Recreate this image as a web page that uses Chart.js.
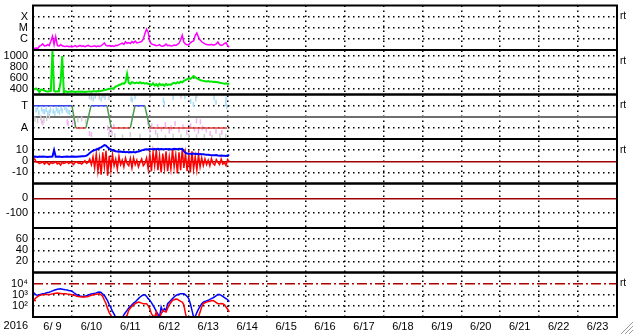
<!DOCTYPE html>
<html>
<head>
<meta charset="utf-8">
<script src="https://cdn.jsdelivr.net/npm/chart.js@4.4.0/dist/chart.umd.min.js"></script>
<style>
  html, body { margin: 0; padding: 0; background: #fff; }
  canvas { display: block; }
</style>
</head>
<body>
<canvas id="spaceWeather" width="633" height="334"></canvas>
<script>
// x axis is in days counted from 2016-06-09 00:00 UT, one data value per hour
const yearLabel = '2016';
const dayLabels = ['6/ 9', '6/10', '6/11', '6/12', '6/13', '6/14', '6/15', '6/16',
                   '6/17', '6/18', '6/19', '6/20', '6/21', '6/22', '6/23'];

// X-ray flux, hourly, in units of 1e-7 W/m2
const xrayFlux = [
  1.4, 1.4, 1.5, 1.4, 2.2, 2.6, 3.6, 2.3, 2.4, 3.0, 2.5, 6.0,
  17, 3.0, 16, 2.6, 2.2, 3.1, 2.4, 2.2, 2.1, 2.3, 2.0, 2.2,
  1.9, 2.1, 2.5, 2.0, 2.2, 2.6, 2.1, 2.4, 2.0, 2.3, 2.6, 2.2,
  2.1, 2.2, 2.4, 2.0, 2.3, 2.1, 2.5, 3.1, 4.4, 2.6, 2.3, 2.5,
  2.2, 2.4, 2.1, 2.6, 2.5, 3.0, 3.6, 4.2, 3.2, 5.5, 4.0, 4.6,
  3.8, 5.8, 4.4, 6.4, 4.4, 4.6, 5.2, 6.0, 10, 30, 77, 40,
  5.5, 3.6, 3.1, 2.8, 2.4, 2.6, 3.0, 2.3, 2.2, 2.5, 3.4, 2.4,
  2.6, 2.3, 2.4, 2.8, 2.6, 3.2, 4.0, 8.0, 21, 5.0, 3.4, 3.0,
  3.0, 4.4, 5.6, 6.5, 20, 34, 14, 8.0, 5.5, 4.4, 3.6, 3.1,
  3.0, 2.8, 3.2, 2.7, 2.9, 3.6, 5.2, 3.0, 2.6, 2.9, 3.8, 4.6,
  2.4, 1.8
];

// solar wind speed, km/s, hourly
const windSpeed = [
  400, 395, 410, 380, 345, 390, 385, 370, 360, 355, 360, 365,
  1090, 365, 350, 360, 355, 520, 990, 330, 360, 345,
  350, 355, 348, 352, 345, 350, 355, 348, 352, 350, 345, 350,
  352, 355, 350, 358, 360, 355, 362, 360, 365, 370, 380,
  385, 395, 400, 410, 405, 420,
  440, 455, 470, 480, 500, 490,
  520, 670, 510, 490,
  520, 510, 505,
  515, 505, 520, 500, 510, 495, 505, 490,
  490, 470, 500, 460, 485, 450, 495, 470, 480, 455, 490, 470, 485, 475,
  500, 510, 495, 520, 505, 530, 520, 545,
  560, 575, 590, 580, 600, 630, 610, 590,
  575, 560, 550, 545, 540, 535, 540, 530, 535, 525, 530, 525, 520,
  510, 505, 500, 495, 500, 490, 495
];

// IMF sector (1 = Toward, -1 = Away)
const sectorDays = [0, 1.0, 1.1, 1.36, 1.49, 1.9, 2.01, 2.5, 2.62, 2.87, 3.0, 4.99];
const sectorValues = [1, 1, -1, -1, 1, 1, -1, -1, 1, 1, -1, -1];

// IMF direction samples [day, value]
const phiToward = [
  [0.08, 0.6], [0.12, 0.8], [0.15, 0.35], [0.22, 0.7], [0.26, 0.5], [0.3, 0.45],
  [0.34, 0.65], [0.38, 0.3], [0.42, 0.4], [0.45, 0.6], [0.52, 0.5], [0.56, 0.3],
  [0.6, 0.7], [0.64, 0.55], [0.68, 0.4], [0.72, 0.75], [0.75, 0.55], [0.82, 0.8],
  [0.86, 0.6], [0.9, 0.45], [0.94, 0.35], [1.5, 1.7], [1.6, 1.85], [1.75, 1.6],
  [1.85, 1.75], [2.52, 1.6], [2.55, 1.5], [2.62, 1.8], [3.35, 1.5], [3.37, 1.2],
  [3.6, 1.7], [3.9, 1.8], [4.05, 1.4], [4.12, 1.1], [4.18, 1.6], [4.65, 1.7],
  [4.7, 1.3], [4.95, 1.2], [4.96, 1.6], [4.98, 0.9]
];
const phiUnsure = [
  [0.05, -0.2], [0.12, -0.35], [0.2, -0.1], [0.28, -0.3], [0.35, -0.15], [0.42, 0.05],
  [1.05, -0.1], [1.15, -0.3], [1.25, -0.2], [1.35, -0.4], [1.45, 1.8], [1.55, 1.6],
  [1.7, 1.75], [1.8, 1.9], [1.95, 1.7], [1.95, -1.6], [2.1, -1.7], [2.3, -1.8],
  [2.5, -1.6], [2.75, -1.75], [3.0, -1.8], [3.0, 1.9], [3.2, -1.7], [3.4, -1.85],
  [3.6, -1.75], [3.8, -1.8], [3.8, 1.85], [4.0, -1.7], [4.2, -1.8], [4.2, 1.9],
  [4.4, -1.75], [4.6, -1.85], [4.8, -1.7], [4.95, -1.8]
];
const phiAway = [
  [0.22, -0.4], [0.25, -0.55], [0.88, -0.45], [0.9, -0.6], [1.02, -0.5], [1.08, -0.7],
  [1.45, -1.5], [1.5, -1.6], [1.92, -1.0], [1.97, -1.3], [2.03, -1.5], [2.08, -0.9],
  [2.95, -0.5], [3.0, -1.2], [3.05, -0.8], [3.15, -1.4], [3.2, -0.9], [3.3, -1.1],
  [3.4, -0.7], [3.5, -1.3], [3.55, -1.0], [3.65, -0.6], [3.75, -1.2], [3.85, -0.9],
  [3.95, -1.4], [4.05, -0.8], [4.15, -1.1], [4.2, -0.35], [4.25, -1.3], [4.3, -0.45],
  [4.35, -1.0], [4.45, -1.2], [4.55, -1.5], [4.7, -1.3], [4.85, -1.4]
];

// IMF Bt and Bz, nT, hourly
const imfBt = [
  4.0, 4.2, 4.1, 3.9, 4.3, 4.0, 4.2, 4.1, 4.0, 3.8, 4.0, 4.1, 4.2,
  10,
  4.1, 4.0, 4.2, 4.0, 3.9, 4.1, 4.0, 4.2, 4.1, 4.0, 4.1, 4.2, 4.0, 4.1, 4.3, 4.2, 4.4, 4.5, 4.6,
  5.0, 6.0, 7.5, 8.5, 9.5, 10, 10.5, 11, 12, 12.5, 13.5,
  14.5, 14, 12.5, 11.5, 10.5, 10, 9.5,
  9, 8.8, 8.5, 8.7, 8.3, 8.5, 8.2, 8.4, 8.0, 8.3,
  8.1, 8.4, 8.0, 8.5, 8.8, 9.2, 9.8, 10.2,
  10.5, 10.8, 10.6, 11, 10.9, 10.7, 11, 10.8, 11.2, 10.9, 11, 10.7,
  10.9, 11.1, 10.8, 11, 10.6, 10.9, 11.2, 11, 10.8, 11.3, 11, 11.2,
  9, 7.5, 7, 6.8,
  6.8, 6.6, 6.9, 6.5, 6.7, 6.4, 6.6, 6.3, 6.2, 6.0, 5.9, 5.8,
  5.6, 5.5, 5.4, 5.3, 5.5, 5.2, 5.0, 5.1, 4.9, 5.0, 4.8, 5.3, 5.6
];
const imfBz = [
  1.5, 2.0, -0.5, -1.0, -2.0, -1.5, -0.5, -2.5, -1.0, -1.5, -3.0, -1.0,
  -2.0, -1.5, -0.5, -2.5, -1.5, -3.5, -1.0, -2.0, -1.5, -0.5, -2.0, -1.0,
  -1.5, -3.0, -1.0, -0.5, -2.0, -1.5, -2.5, -1.0, 0.5, -2.0, -1.0, 2.0,
  -3.0, 4.0, -6.0, 6.5, -9.0, 3.0, -12.0, 8.0, -5.0, 9.5, -13.0, 5.0,
  -8.0, 6.0, -4.0, 2.0, -7.0, 4.5, -3.0, 1.0, -5.0, 3.0, -2.0, -4.0,
  2.5, -6.0, 3.0, -3.0, 1.0, -5.0, -1.0, 2.0, -4.0, -2.0, 3.0, -7.0,
  6.0, -9.0, 8.0, -4.0, 10.0, -8.0, 5.0, -10.0, 7.0, -6.0, 9.0, -9.0,
  4.0, -7.0, 10.5, -5.0, 6.0, -11.0, 8.0, -8.0, 11.0, -6.0, 7.0, -9.0,
  5.0, -10.0, 9.0, -7.0, 4.0, -8.0, 6.0, -5.0, 3.0, -4.0, 2.0, -3.0,
  1.0, -4.0, 2.5, -2.0, -3.5, 1.5, -1.0, -3.0, 2.0, -2.5, -1.0, -4.0, 1.5, -0.5
];

// electron flux, hourly, given as log10 of the flux
const electronLogA = [
  3.23, 3.1, 2.97, 2.95, 3.0, 3.05, 3.08, 3.1, 3.15, 3.2,
  3.23, 3.28, 3.35, 3.4, 3.45, 3.5, 3.52, 3.53, 3.5, 3.47,
  3.44, 3.42, 3.38, 3.35, 3.32, 3.2, 3.1, 3.0, 2.94, 2.9,
  2.87, 2.85, 2.88, 2.92, 2.97, 3.03, 3.07, 3.1, 3.13, 3.17,
  3.22, 3.25, 3.2, 3.05, 2.95, 2.7, 2.45, 2.1, 1.85, 1.5,
  1.25, 0.95, 0.7, 0.7, 0.7, 0.9, 1.2, 1.4, 1.6, 1.8,
  1.95, 2.1, 2.25, 2.35, 2.5, 2.65, 2.8, 2.9, 3.0, 3.0,
  2.85, 2.65, 2.5, 2.3, 2.05, 1.8, 1.5, 1.25, 1.0, 1.9,
  1.5, 1.75, 1.6, 2.2, 2.35, 2.5, 2.65, 2.8, 2.92, 3.0,
  3.05, 3.08, 3.09, 3.08, 3.0, 2.85, 2.65, 2.2, 1.6, 1.0,
  1.05, 1.4, 1.7, 1.95, 2.2, 2.34, 2.4, 2.45, 2.5, 2.58,
  2.65, 2.73, 2.82, 2.92, 3.02, 3.03, 2.95, 2.85, 2.75, 2.65,
  2.55, 2.38
];
const electronLogB = [
  2.49, 2.6, 2.75, 2.85, 2.92, 2.97, 3.01, 3.03, 3.03, 3.03,
  3.03, 3.05, 3.08, 3.11, 3.14, 3.15, 3.14, 3.12, 3.1, 3.09,
  3.08, 3.06, 3.05, 3.03, 3.0, 2.96, 2.92, 2.87, 2.84, 2.82,
  2.8, 2.79, 2.8, 2.82, 2.85, 2.9, 2.95, 2.99, 3.03, 3.05,
  3.07, 3.09, 3.0, 2.85, 2.5, 2.2, 1.75, 1.4, 1.15, 0.8,
  0.7, 0.7, 0.7, 0.7, 0.7, 0.7, 0.8, 1.0, 1.15, 1.6,
  1.8, 1.95, 2.1, 2.2, 2.28, 2.34, 2.3, 2.25, 2.2, 2.2,
  2.2, 2.0, 1.75, 1.3, 1.1, 1.0, 1.45, 0.8, 0.9, 1.3,
  1.6, 1.5, 1.45, 1.8, 2.1, 2.3, 2.49, 2.55, 2.62, 2.6,
  2.5, 2.4, 2.34, 2.1, 1.3, 0.8, 0.7, 0.7, 0.7, 0.7,
  0.7, 0.7, 1.0, 1.45, 1.9, 2.2, 2.28, 2.34, 2.38, 2.42,
  2.46, 2.49, 2.4, 2.3, 2.2, 2.2, 2.22, 2.2, 2.1, 1.9,
  1.7, 1.45
];

// tick values and labels of each panel, top to bottom
const xrayTicks = [1e-4, 1e-5, 1e-6];
const xrayTickLabels = ['X', 'M', 'C'];
const speedTicks = [1000, 800, 600, 400];
const sectorTicks = [1, 0, -1];
const sectorTickLabels = ['T', '', 'A'];
const bzTicks = [10, 0, -10];
const dstTicks = [0, -100];
const kpTicks = [60, 40, 20];
const electronTicks = [1e4, 1e3, 1e2];
const electronTickLabels = ['10\u2074', '10\u00b3', '10\u00b2'];

const FONT = "'Liberation Sans', Arial, sans-serif";
const dotted = [1.5, 3.5];

const hourly = (vals, f) => vals.map((v, i) => ({ x: i / 24, y: f ? f(v) : v }));
const pairs = list => list.map(p => ({ x: p[0], y: p[1] }));

// one stacked panel axis on the left
function panelAxis(weight, type, min, max, tickValues, tickLabels, special) {
  const isSpecial = c => special && c.tick && c.tick.value === special.value;
  return {
    type: type, min: min, max: max,
    position: 'left', stack: 'panels', stackWeight: 1, weight: weight,
    afterFit: s => { s.width = 33; s.paddingTop = 0; s.paddingBottom = 0; },
    afterBuildTicks: s => { s.ticks = tickValues.map(v => ({ value: v })); },
    grid: {
      drawTicks: false,
      color: c => isSpecial(c) ? special.color : '#000',
      lineWidth: c => isSpecial(c) ? special.width : 1.5
    },
    border: { display: false, dash: c => isSpecial(c) ? special.dash : dotted },
    ticks: {
      autoSkip: false, padding: 5, color: '#000',
      font: { family: FONT, size: 11 },
      callback: (v, i) => tickLabels ? tickLabels[i] : String(tickValues[i])
    }
  };
}

const panelIds = ['yXray', 'ySpeed', 'ySector', 'yBz', 'yDst', 'yKp', 'yElectron'];
const markedPanels = ['yXray', 'ySpeed', 'ySector', 'yBz', 'yElectron'];

// panel frames, 'rt' marks, year and size grip
const panelFrames = {
  id: 'panelFrames',
  afterDatasetsDraw(chart) {
    const { ctx, chartArea: a } = chart;
    ctx.save();
    ctx.strokeStyle = '#000';
    ctx.lineWidth = 2;
    panelIds.forEach(id => {
      const s = chart.scales[id];
      ctx.strokeRect(a.left, s.top, a.right - a.left, s.bottom - s.top);
    });
    ctx.restore();
  },
  afterDraw(chart) {
    const { ctx, chartArea: a } = chart;
    ctx.save();
    ctx.fillStyle = '#000';
    ctx.font = '10px ' + FONT;
    ctx.textAlign = 'left';
    ctx.textBaseline = 'middle';
    markedPanels.forEach(id => {
      ctx.fillText('rt', a.right + 3, chart.scales[id].top + 11);
    });
    ctx.font = '11px ' + FONT;
    ctx.textAlign = 'right';
    ctx.textBaseline = 'top';
    ctx.fillText(yearLabel, a.left - 5, chart.scales.x.top + 3);
    const w = chart.width, h = chart.height;
    ctx.lineWidth = 1;
    [0, 4, 8].forEach(k => {
      ctx.strokeStyle = '#999';
      ctx.beginPath();
      ctx.moveTo(w - 12 + k, h);
      ctx.lineTo(w, h - 12 + k);
      ctx.stroke();
    });
    ctx.restore();
  }
};

const sectorColor = c => {
  const a = c.p0.parsed.y, b = c.p1.parsed.y;
  if (a > 0 && b > 0) return '#3c46f0';
  if (a < 0 && b < 0) return '#e03c3c';
  return '#4e9a4e';
};

const streak = (data, color) => ({
  data: pairs(data), yAxisID: 'ySector', showLine: false,
  pointStyle: 'line', pointRotation: 90, pointRadius: 2.5,
  pointBorderColor: color, pointBorderWidth: 1.5
});

new Chart(document.getElementById('spaceWeather'), {
  type: 'line',
  data: {
    datasets: [
      { data: hourly(xrayFlux, v => v * 1e-7), yAxisID: 'yXray', borderColor: '#ff00ff', borderWidth: 1.5 },
      { data: hourly(windSpeed), yAxisID: 'ySpeed', borderColor: '#00e800', borderWidth: 2 },
      { data: sectorDays.map((d, i) => ({ x: d, y: sectorValues[i] })), yAxisID: 'ySector',
        borderWidth: 1.5, segment: { borderColor: sectorColor } },
      streak(phiToward, '#a6dcf6'),
      streak(phiUnsure, '#cfcfcf'),
      streak(phiAway, '#f2b4f0'),
      { data: hourly(imfBt), yAxisID: 'yBz', borderColor: '#0000ff', borderWidth: 2 },
      { data: hourly(imfBz), yAxisID: 'yBz', borderColor: '#ff0000', borderWidth: 1.5 },
      { data: hourly(electronLogB, v => Math.pow(10, v)), yAxisID: 'yElectron', borderColor: '#ff0000', borderWidth: 1.5,
        pointStyle: 'cross', pointBorderColor: '#ff0000', pointBorderWidth: 1.5,
        pointRadius: c => c.dataIndex === 0 ? 3 : 0 },
      { data: hourly(electronLogA, v => Math.pow(10, v)), yAxisID: 'yElectron', borderColor: '#0000ff', borderWidth: 1.5 }
    ]
  },
  options: {
    responsive: false,
    animation: false,
    events: [],
    layout: { padding: { top: 2, right: 16, bottom: 0, left: 0 } },
    plugins: { legend: { display: false }, tooltip: { enabled: false } },
    elements: { point: { radius: 0 }, line: { tension: 0, fill: false } },
    scales: {
      x: {
        type: 'linear', min: 0, max: dayLabels.length, position: 'bottom',
        afterFit: s => { s.height = 17; s.paddingLeft = 0; s.paddingRight = 0; },
        afterBuildTicks: s => { s.ticks = dayLabels.concat(['']).map((_, i) => ({ value: i })); },
        grid: {
          drawTicks: false, lineWidth: 1.5,
          color: c => (c.tick && c.tick.value > 0 && c.tick.value < dayLabels.length) ? '#000' : 'rgba(0,0,0,0)'
        },
        border: { display: false, dash: dotted },
        ticks: {
          autoSkip: false, maxRotation: 0, padding: 3, labelOffset: 19.5, color: '#000',
          font: { family: FONT, size: 11 },
          callback: (v, i) => dayLabels[i] || ''
        }
      },
      yXray: panelAxis(7, 'logarithmic', 1e-7, 1e-3, xrayTicks, xrayTickLabels),
      ySpeed: panelAxis(6, 'linear', 300, 1100, speedTicks),
      ySector: panelAxis(5, 'linear', -2, 2, sectorTicks, sectorTickLabels,
        { value: 0, color: '#6e6e6e', width: 2, dash: [] }),
      yBz: panelAxis(4, 'linear', -20, 20, bzTicks, null,
        { value: 0, color: '#a00000', width: 1.5, dash: [] }),
      yDst: panelAxis(3, 'linear', -200, 100, dstTicks, null,
        { value: 0, color: '#a00000', width: 1.5, dash: [] }),
      yKp: panelAxis(2, 'linear', 0, 80, kpTicks),
      yElectron: panelAxis(1, 'logarithmic', 10, 1e5, electronTicks, electronTickLabels,
        { value: 1e4, color: '#b00000', width: 1.5, dash: [10, 3, 2, 3] })
    }
  },
  plugins: [panelFrames]
});
</script>
</body>
</html>
